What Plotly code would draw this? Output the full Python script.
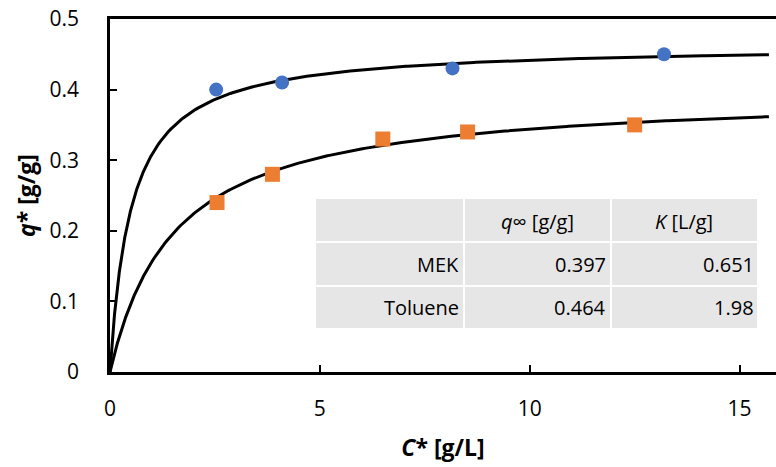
import numpy as np
import plotly.graph_objects as go

# Data
toluene_C = [2.53, 4.10, 8.16, 13.2]
toluene_q = [0.400, 0.410, 0.430, 0.450]
mek_C = [2.55, 3.87, 6.50, 8.52, 12.5]
mek_q = [0.240, 0.280, 0.330, 0.340, 0.350]

# Table (Langmuir parameters)
table_rows = ["MEK", "Toluene"]
table_qinf = ["0.397", "0.464"]
table_K = ["0.651", "1.98"]

# Langmuir fit parameters for the curves (upper curve / lower curve)
upper_qinf, upper_K = 0.464, 1.98
lower_qinf, lower_K = 0.397, 0.651

x_ticks = [0, 5, 10, 15]
y_ticks = [0, 0.1, 0.2, 0.3, 0.4, 0.5]

FONT = "Open Sans"
W, H = 776, 467
L, R, T, B = 110, 0, 19, 95
PW, PH = W - L - R, H - T - B

def px(x):
    return (x - L) / PW

def py(y):
    return (H - B - y) / PH

Cfit = np.concatenate([np.linspace(0, 1, 200), np.linspace(1, 15.7, 300)])
q_up = upper_qinf * upper_K * Cfit / (1 + upper_K * Cfit)
q_lo = lower_qinf * lower_K * Cfit / (1 + lower_K * Cfit)

fig = go.Figure()
fig.add_trace(go.Scatter(x=Cfit, y=q_up, mode="lines", line=dict(color="black", width=3), showlegend=False))
fig.add_trace(go.Scatter(x=Cfit, y=q_lo, mode="lines", line=dict(color="black", width=3), showlegend=False))
fig.add_trace(go.Scatter(x=toluene_C, y=toluene_q, mode="markers",
                         marker=dict(symbol="circle", size=14, color="#4472C4"), showlegend=False))
fig.add_trace(go.Scatter(x=mek_C, y=mek_q, mode="markers",
                         marker=dict(symbol="square", size=15, color="#ED7D31"), showlegend=False))

# Table drawn as cells
col_x = [(316, 463), (465, 610), (612, 757)]
row_y = [(199, 241), (243, 285), (287, 328)]
shapes = []
for (x0, x1) in col_x:
    for (y0, y1) in row_y:
        shapes.append(dict(type="rect", xref="paper", yref="paper", x0=px(x0), x1=px(x1),
                           y0=py(y1), y1=py(y0), fillcolor="#E7E6E6", line=dict(width=0), layer="above"))

ann = []
tf = dict(family=FONT, size=20, color="#000000")
# header
ann.append(dict(x=px(537), y=py(221), xref="paper", yref="paper", text="<i>q</i>∞ [g/g]",
                showarrow=False, font=tf, xanchor="center", yanchor="middle"))
ann.append(dict(x=px(684), y=py(221), xref="paper", yref="paper", text="<i>K</i> [L/g]",
                showarrow=False, font=tf, xanchor="center", yanchor="middle"))
for i, name in enumerate(table_rows):
    yc = (row_y[i + 1][0] + row_y[i + 1][1]) / 2
    for text, xr in [(name, 461), (table_qinf[i], 608), (table_K[i], 756)]:
        ann.append(dict(x=px(xr), y=py(yc), xref="paper", yref="paper", text=text,
                        showarrow=False, font=tf, xanchor="right", yanchor="middle"))

fig.update_layout(
    width=W, height=H,
    margin=dict(l=L, r=R, t=T, b=B, autoexpand=False),
    plot_bgcolor="white", paper_bgcolor="white",
    font=dict(family=FONT, size=21, color="black"),
    shapes=shapes, annotations=ann,
    xaxis=dict(range=[0, PW / 41.97], tickvals=x_ticks, ticktext=[str(v) for v in x_ticks],
               showgrid=False, zeroline=False, showline=True, linecolor="black", linewidth=2.5,
               mirror=True, ticks="inside", ticklen=7, tickwidth=2, tickcolor="black",
               ticklabelstandoff=16, automargin=False, tickfont=dict(size=21),
               title=dict(text="<b><i>C</i>* [g/L]</b>", font=dict(family=FONT, size=23), standoff=19)),
    yaxis=dict(range=[0, 0.5], tickvals=y_ticks, ticktext=["0", "0.1", "0.2", "0.3", "0.4", "0.5"],
               showgrid=False, zeroline=False, showline=True, linecolor="black", linewidth=2.5,
               mirror=False, ticks="inside", ticklen=7, tickwidth=2, tickcolor="black",
               ticklabelstandoff=24, automargin=False, tickfont=dict(size=21),
               title=dict(text="<b><i>q</i>* [g/g]</b>", font=dict(family=FONT, size=23), standoff=8)),
)

fig.write_html("out.html", config={"displayModeBar": False},
               post_script="document.body.style.margin='0';document.body.style.overflow='hidden';")
